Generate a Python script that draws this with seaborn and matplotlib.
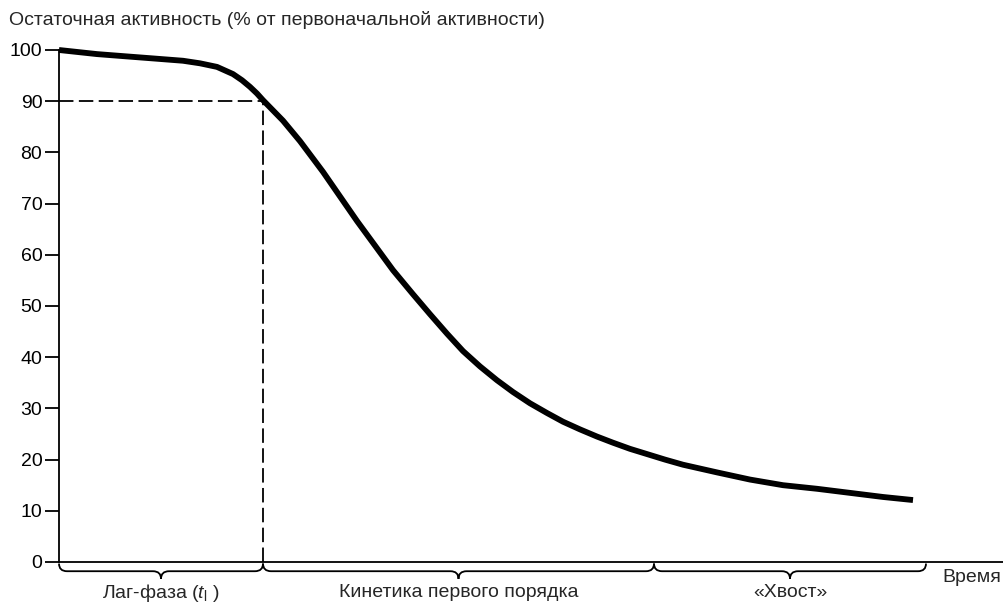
import numpy as np
import matplotlib
matplotlib.use('Agg')
import matplotlib.pyplot as plt
import matplotlib.transforms as mtransforms
from matplotlib.path import Path
from matplotlib.patches import PathPatch
import seaborn as sns

# время (усл. единицы) и остаточная активность, %
time = [0, 38, 71, 91, 124, 141, 158, 174, 183, 191, 198, 204, 224, 241,
        264, 298, 334, 354, 371, 388, 404, 421, 438, 454, 471, 488, 504,
        521, 538, 554, 571, 591, 606, 624, 658, 691, 724, 758, 791, 824,
        854]
activity = [100, 99.2, 98.7, 98.4, 97.9, 97.4, 96.7, 95.3, 94.1, 92.8, 91.5,
            90.2, 86.2, 82.2, 76.2, 66.6, 57.0, 52.3, 48.4, 44.6, 41.2, 38.2,
            35.5, 33.2, 31.0, 29.1, 27.4, 25.9, 24.5, 23.3, 22.1, 20.9, 20.0,
            19.0, 17.5, 16.1, 15.0, 14.3, 13.5, 12.7, 12.1]

lag_end = 204
lag_level = 90
phase_edges = [0, 204, 595, 867]
phase_names = [r'Лаг-фаза ($t_\mathrm{l}$ )', 'Кинетика первого порядка', '«Хвост»']
y_ticks = list(range(0, 101, 10))

sns.set_style('ticks')
plt.rcParams['font.family'] = ['Liberation Sans', 'DejaVu Sans']
plt.rcParams['mathtext.fontset'] = 'custom'
plt.rcParams['mathtext.rm'] = 'Liberation Sans'
plt.rcParams['mathtext.it'] = 'Liberation Sans:italic'

fs = 14

fig = plt.figure(figsize=(10.04, 6.05), dpi=100)
ax = fig.add_axes([59 / 1004, 43 / 605, 1 - 59 / 1004, 512 / 605])

sns.lineplot(x=time, y=activity, color='black', linewidth=4.2, ax=ax,
             sort=False)
for ln in ax.lines:
    ln.set_clip_on(False)
    ln.set_solid_capstyle('butt')
    ln.set_solid_joinstyle('round')

# пунктир: конец лаг-фазы
ax.plot([0, lag_end], [lag_level, lag_level], color='black', lw=1.3,
        ls=(0, (8, 3)), clip_on=False)
ax.plot([lag_end, lag_end], [0, lag_level], color='black', lw=1.3,
        ls=(0, (8, 3)), clip_on=False)

ax.set_xlim(0, 945)
ax.set_ylim(0, 100)
ax.set_yticks(y_ticks)
ax.set_xticks([])
ax.tick_params(axis='y', length=10, width=1.3, labelsize=fs, pad=2,
               colors='black')
for s in ['top', 'right']:
    ax.spines[s].set_visible(False)
for s in ['left', 'bottom']:
    ax.spines[s].set_linewidth(1.3)
    ax.spines[s].set_color('black')

# фигурные скобки под осью
trans = mtransforms.blended_transform_factory(ax.transData, ax.transAxes)
y_top, y_mid, y_tip = -0.003, -0.018, -0.033
r = 8
for a, b, name in zip(phase_edges[:-1], phase_edges[1:], phase_names):
    m = (a + b) / 2
    verts = [(a, y_top), (a, y_mid), (a + r, y_mid),
             (m - r, y_mid), (m, y_mid), (m, y_tip),
             (m, y_mid), (m + r, y_mid),
             (b - r, y_mid), (b, y_mid), (b, y_top)]
    codes = [Path.MOVETO, Path.CURVE3, Path.CURVE3,
             Path.LINETO, Path.CURVE3, Path.CURVE3,
             Path.CURVE3, Path.CURVE3,
             Path.LINETO, Path.CURVE3, Path.CURVE3]
    ax.add_patch(PathPatch(Path(verts, codes), transform=trans, fill=False,
                           lw=1.3, color='black', clip_on=False))
    ax.text(m, -0.06, name, transform=trans, ha='center', va='center',
            fontsize=fs)

fig.text(942 / 1004, 1 - 577 / 605, 'Время', ha='left', va='center',
         fontsize=fs)
fig.text(9 / 1004, 1 - 20 / 605,
         'Остаточная активность (% от первоначальной активности)',
         ha='left', va='center', fontsize=fs)

fig.savefig('out.png', dpi=100)
